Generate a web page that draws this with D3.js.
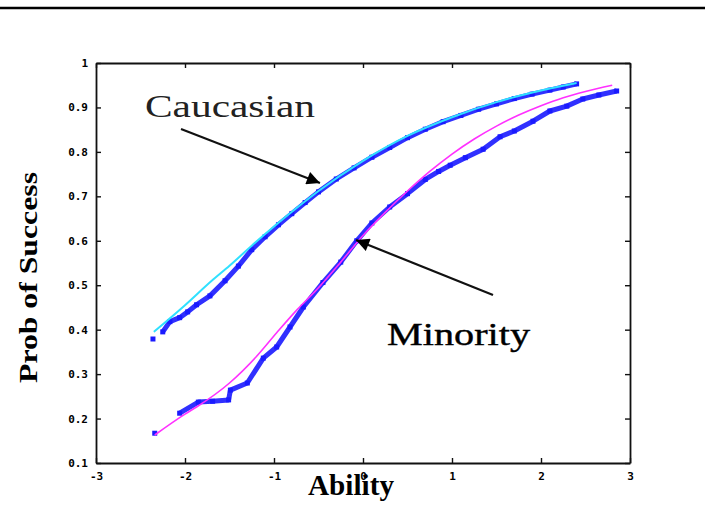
<!DOCTYPE html>
<html>
<head>
<meta charset="utf-8">
<script src="https://cdn.jsdelivr.net/npm/d3@7"></script>
<style>
html,body{margin:0;padding:0;background:#fff;}
svg{display:block;}
</style>
</head>
<body>
<svg id="chart" width="705" height="521"></svg>
<script>
// ---- data ----
const xTicks = [-3, -2, -1, 0, 1, 2, 3];
const xTickLabels = ["-3", "-2", "-1", "0", "1", "2", "3"];
const yTicks = [0.1, 0.2, 0.3, 0.4, 0.5, 0.6, 0.7, 0.8, 0.9, 1];
const yTickLabels = ["0.1", "0.2", "0.3", "0.4", "0.5", "0.6", "0.7", "0.8", "0.9", "1"];

// Caucasian fitted curve (cyan)
const caucFitX = [-2.35, -2.0, -1.7, -1.5, -1.25, -1.0, -0.75, -0.5, 0.0, 0.5, 1.0, 1.5, 2.0, 2.4];
const caucFitY = [0.395, 0.455, 0.510, 0.544, 0.589, 0.632, 0.673, 0.712, 0.780, 0.836, 0.878, 0.912, 0.938, 0.955];
// Caucasian empirical (blue)
const caucEmpX = [-2.36, -2.25, -2.17, -2.06, -1.97, -1.87, -1.72, -1.55, -1.40, -1.25, -1.10, -0.95, -0.80, -0.65, -0.50, -0.30, -0.10, 0.10, 0.30, 0.50, 0.70, 0.90, 1.10, 1.30, 1.50, 1.70, 1.90, 2.10, 2.25, 2.40];
const caucEmpY = [0.379, 0.395, 0.418, 0.427, 0.440, 0.456, 0.476, 0.510, 0.543, 0.580, 0.609, 0.636, 0.661, 0.686, 0.710, 0.739, 0.764, 0.788, 0.810, 0.832, 0.851, 0.868, 0.882, 0.896, 0.908, 0.920, 0.930, 0.939, 0.946, 0.953];

// Minority fitted curve (magenta)
const minFitX = [-2.34, -2.0, -1.87, -1.5, -1.2, -0.97, -0.74, -0.52, -0.25, 0.0, 0.25, 0.5, 0.75, 1.0, 1.25, 1.5, 1.75, 2.0, 2.25, 2.5, 2.8];
const minFitY = [0.163, 0.210, 0.226, 0.280, 0.339, 0.393, 0.445, 0.490, 0.552, 0.612, 0.664, 0.712, 0.756, 0.795, 0.829, 0.858, 0.883, 0.904, 0.922, 0.936, 0.950];
// Minority empirical (blue)
const minEmpX = [-2.34, -2.06, -1.85, -1.69, -1.51, -1.49, -1.30, -1.12, -0.97, -0.82, -0.67, -0.45, -0.25, -0.07, 0.10, 0.30, 0.50, 0.70, 0.85, 0.98, 1.15, 1.35, 1.54, 1.70, 1.91, 2.10, 2.29, 2.47, 2.65, 2.85];
const minEmpY = [0.167, 0.212, 0.237, 0.239, 0.242, 0.264, 0.280, 0.336, 0.361, 0.406, 0.451, 0.506, 0.552, 0.600, 0.640, 0.676, 0.706, 0.738, 0.756, 0.770, 0.787, 0.806, 0.834, 0.847, 0.869, 0.892, 0.903, 0.919, 0.928, 0.937];

// ---- drawing ----
const svg = d3.select("#chart");
const L = 96, R = 630, T = 63, B = 463;
const x = d3.scaleLinear().domain([-3, 3]).range([L, R]);
const y = d3.scaleLinear().domain([0.1, 1]).range([B, T]);

// top rule
svg.append("line").attr("x1", 0).attr("x2", 705).attr("y1", 8).attr("y2", 8)
  .attr("stroke", "#000").attr("stroke-width", 2.5);

const zip = (xs, ys) => xs.map((v, i) => [v, ys[i]]);
const line = d3.line().x(d => x(d[0])).y(d => y(d[1]));
const smooth = d3.line().x(d => x(d[0])).y(d => y(d[1])).curve(d3.curveMonotoneX);

// empirical series (blue, thick, square markers)
function empirical(pts) {
  svg.append("path").datum(pts.slice(1)).attr("d", line)
    .attr("fill", "none").attr("stroke", "#1a1aff").attr("stroke-width", 5)
    .attr("stroke-linejoin", "round").attr("opacity", 0.9);
  svg.append("g").selectAll("rect").data(pts).join("rect")
    .attr("x", d => x(d[0]) - 2.5).attr("y", d => y(d[1]) - 2.5)
    .attr("width", 5).attr("height", 5).attr("fill", "#1a1aff");
}
empirical(zip(caucEmpX, caucEmpY));
empirical(zip(minEmpX, minEmpY));

svg.append("path").datum(zip(caucFitX, caucFitY)).attr("d", smooth)
  .attr("fill", "none").attr("stroke", "#30e0ff").attr("stroke-width", 2);
svg.append("path").datum(zip(minFitX, minFitY)).attr("d", smooth)
  .attr("fill", "none").attr("stroke", "#ff30ff").attr("stroke-width", 1.6);

// axes box with inward ticks
const axisStroke = "#111";
const tickFont = "bold 11px 'DejaVu Sans Mono', monospace";
const gx = svg.append("g").attr("transform", `translate(0,${B})`)
  .call(d3.axisBottom(x).tickValues(xTicks).tickSize(-5).tickSizeOuter(0)
    .tickFormat((d, i) => xTickLabels[i]).tickPadding(9));
const gxt = svg.append("g").attr("transform", `translate(0,${T})`)
  .call(d3.axisTop(x).tickValues(xTicks).tickSize(-5).tickSizeOuter(0).tickFormat(""));
const gy = svg.append("g").attr("transform", `translate(${L},0)`)
  .call(d3.axisLeft(y).tickValues(yTicks).tickSize(-5).tickSizeOuter(0)
    .tickFormat((d, i) => yTickLabels[i]).tickPadding(8));
const gyr = svg.append("g").attr("transform", `translate(${R},0)`)
  .call(d3.axisRight(y).tickValues(yTicks).tickSize(-5).tickSizeOuter(0).tickFormat(""));
[gx, gxt, gy, gyr].forEach(g => {
  g.selectAll("path.domain").attr("stroke", axisStroke).attr("stroke-width", 1.8);
  g.selectAll("line").attr("stroke", axisStroke).attr("stroke-width", 1.4);
  g.selectAll("text").style("font", tickFont).attr("fill", "#000");
});

// annotations
svg.append("defs").append("marker").attr("id", "ah")
  .attr("viewBox", "0 0 10 10").attr("refX", 10).attr("refY", 5)
  .attr("markerWidth", 8).attr("markerHeight", 6).attr("markerUnits", "strokeWidth")
  .attr("orient", "auto")
  .append("path").attr("d", "M0,0 L10,5 L0,10 z").attr("fill", "#000");

svg.append("line").attr("x1", 181).attr("y1", 129).attr("x2", 320).attr("y2", 183)
  .attr("stroke", "#111").attr("stroke-width", 2.2).attr("marker-end", "url(#ah)");
svg.append("line").attr("x1", 493).attr("y1", 295).attr("x2", 356).attr("y2", 240)
  .attr("stroke", "#111").attr("stroke-width", 2.2).attr("marker-end", "url(#ah)");

svg.append("text").attr("x", 145).attr("y", 117).text("Caucasian")
  .attr("textLength", 170).attr("lengthAdjust", "spacingAndGlyphs")
  .style("font", "32px 'Liberation Serif', serif").attr("fill", "#222");
svg.append("text").attr("x", 387).attr("y", 345).text("Minority")
  .attr("textLength", 143).attr("lengthAdjust", "spacingAndGlyphs")
  .style("font", "32px 'Liberation Serif', serif").attr("fill", "#000")
  .attr("stroke", "#000").attr("stroke-width", 0.4);

// axis titles
svg.append("text").attr("transform", "translate(37,383) rotate(-90)")
  .text("Prob of Success").attr("textLength", 211).attr("lengthAdjust", "spacingAndGlyphs")
  .style("font", "bold 26px 'Liberation Serif', serif").attr("fill", "#000");
svg.append("text").attr("x", 308).attr("y", 495).text("Ability")
  .attr("textLength", 86).attr("lengthAdjust", "spacingAndGlyphs")
  .style("font", "bold 29px 'Liberation Serif', serif").attr("fill", "#000");
// the "0" tick label sits over the title, as in the original
gx.raise();
</script>
</body>
</html>
